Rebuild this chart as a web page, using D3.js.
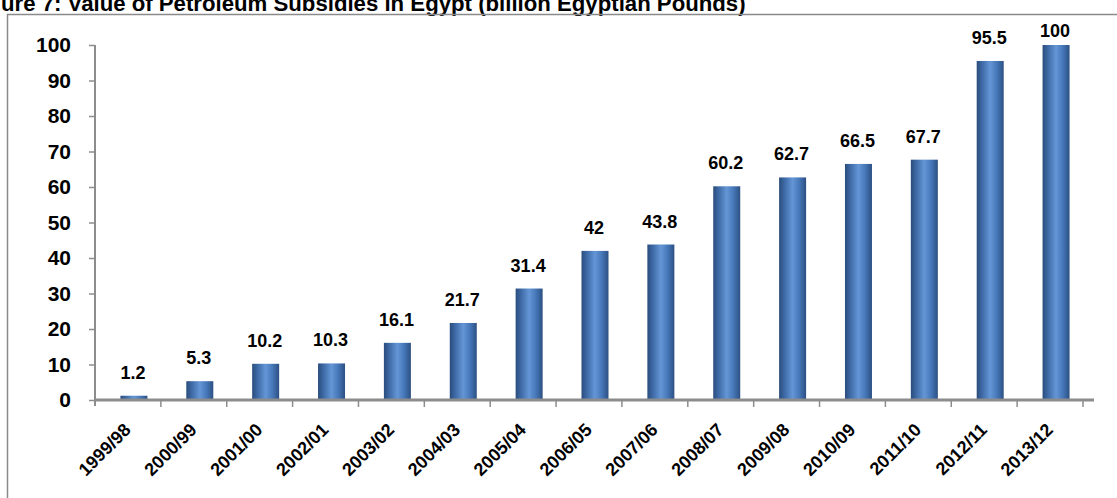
<!DOCTYPE html>
<html>
<head>
<meta charset="utf-8">
<script src="https://cdn.jsdelivr.net/npm/d3@7"></script>
<style>
  body { margin: 0; background: #fff; }
  text { font-family: "Liberation Sans", Arial, sans-serif; font-weight: bold; fill: #000; }
</style>
</head>
<body>
<div class="chart"></div>
<script>
var categories = ["1999/98","2000/99","2001/00","2002/01","2003/02","2004/03","2005/04",
                  "2006/05","2007/06","2008/07","2009/08","2010/09","2011/10","2012/11","2013/12"];
var values = [1.2, 5.3, 10.2, 10.3, 16.1, 21.7, 31.4, 42, 43.8, 60.2, 62.7, 66.5, 67.7, 95.5, 100];
var yTicks = [0, 10, 20, 30, 40, 50, 60, 70, 80, 90, 100];
var title = "ure 7: Value of Petroleum Subsidies in Egypt (billion Egyptian Pounds)";

var width = 1117,
    height = 498,
    plotLeft = 95,
    plotRight = 1083,
    plotTop = 45,
    plotBottom = 400,
    barWidth = 27,
    barShift = 6,
    axisColor = "#8c8c8c";

var svg = d3.select(".chart").append("svg")
    .attr("width", width)
    .attr("height", height);

// bar gradient, dark edges and light middle
var grad = svg.append("defs").append("linearGradient")
    .attr("id", "barGrad")
    .attr("x1", "0%").attr("x2", "100%").attr("y1", "0%").attr("y2", "0%");
grad.append("stop").attr("offset", "0%").attr("stop-color", "#2a4c7c");
grad.append("stop").attr("offset", "20%").attr("stop-color", "#3e6aa6");
grad.append("stop").attr("offset", "50%").attr("stop-color", "#6496d6");
grad.append("stop").attr("offset", "75%").attr("stop-color", "#4677b8");
grad.append("stop").attr("offset", "100%").attr("stop-color", "#2c5083");

// title, cut at the top like in the source
var t = svg.append("text")
    .attr("x", 1)
    .attr("y", 11)
    .attr("font-size", 20)
    .text(title);
var tl = t.node().getComputedTextLength();
t.attr("font-size", 20 * 745 / tl);

// outer frame (runs off the right and bottom)
svg.append("rect")
    .attr("x", 7.5).attr("y", 14.5)
    .attr("width", 1200).attr("height", 600)
    .attr("fill", "none")
    .attr("stroke", "#8a8a8a")
    .attr("stroke-width", 1.5);

var x = d3.scaleBand().domain(categories).range([plotLeft, plotRight]);
var y = d3.scaleLinear().domain([0, 100]).range([plotBottom, plotTop]);

// y axis
var yAxis = svg.append("g")
    .attr("transform", "translate(" + plotLeft + ",0)")
    .call(d3.axisLeft(y).tickValues(yTicks).tickSize(6).tickPadding(18));
yAxis.select(".domain").attr("stroke", axisColor).attr("stroke-width", 2)
    .attr("d", "M0," + y(100) + "V" + (plotBottom + 6));
yAxis.selectAll(".tick line").attr("stroke", axisColor).attr("stroke-width", 1.5);
yAxis.selectAll(".tick text")
    .attr("font-size", 21)
    .attr("font-family", "Liberation Sans, Arial, sans-serif")
    .attr("font-weight", "bold")
    .attr("fill", "#000");

// bars
svg.selectAll(".bar")
    .data(values)
    .enter()
    .append("rect")
    .attr("class", "bar")
    .attr("x", function(d, i){ return x(categories[i]) + x.bandwidth() / 2 - barWidth / 2 + barShift; })
    .attr("y", function(d){ return y(d); })
    .attr("width", barWidth)
    .attr("height", function(d){ return plotBottom - y(d); })
    .attr("fill", "url(#barGrad)");

// x axis line and ticks at band edges
svg.append("line")
    .attr("x1", plotLeft).attr("x2", plotRight + 11)
    .attr("y1", plotBottom).attr("y2", plotBottom)
    .attr("stroke", axisColor).attr("stroke-width", 3);
svg.selectAll(".xtick")
    .data(categories)
    .enter()
    .append("line")
    .attr("class", "xtick")
    .attr("x1", function(d){ return x(d) + x.bandwidth(); })
    .attr("x2", function(d){ return x(d) + x.bandwidth(); })
    .attr("y1", plotBottom).attr("y2", plotBottom + 7)
    .attr("stroke", axisColor).attr("stroke-width", 1.5);

// rotated category labels
svg.selectAll(".xlab")
    .data(categories)
    .enter()
    .append("text")
    .attr("class", "xlab")
    .attr("font-size", 18)
    .attr("text-anchor", "end")
    .attr("transform", function(d){
        return "translate(" + (x(d) + x.bandwidth() / 2 + 4) + "," + (plotBottom + 31) + ") rotate(-45)";
    })
    .text(function(d){ return d; });

// value labels
svg.selectAll(".vlab")
    .data(values)
    .enter()
    .append("text")
    .attr("class", "vlab")
    .attr("font-size", 18)
    .attr("text-anchor", "middle")
    .attr("x", function(d, i){ return x(categories[i]) + x.bandwidth() / 2 + barShift - 1; })
    .attr("y", function(d){ return Math.max(y(d) - 17, y(100) - 8); })
    .text(function(d){ return d; });
</script>
</body>
</html>
